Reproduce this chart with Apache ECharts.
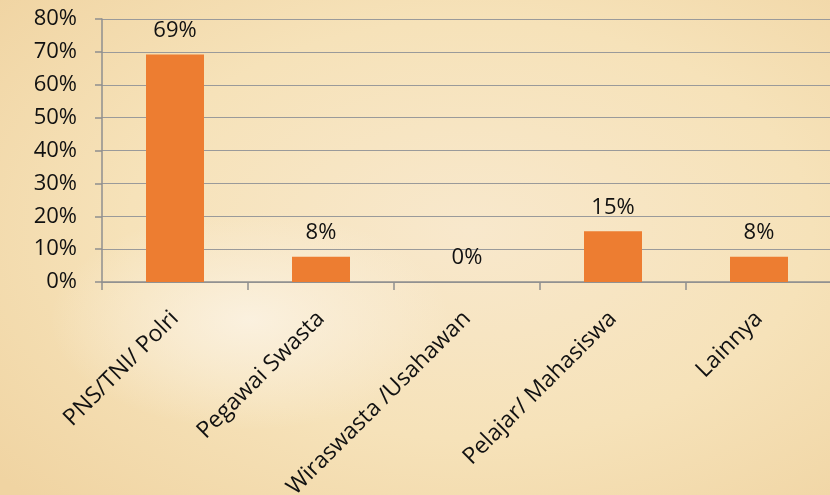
<!DOCTYPE html>
<html>
<head>
<meta charset="utf-8">
<script src="https://cdn.jsdelivr.net/npm/echarts@6/dist/echarts.min.js"></script>
<style>
  html, body { margin: 0; padding: 0; }
  body {
    width: 830px; height: 495px; overflow: hidden;
    background:
      radial-gradient(ellipse 200px 110px at 250px 320px, rgba(251,242,226,0.9), rgba(251,242,226,0) 100%),
      radial-gradient(ellipse 620px 380px at 470px 230px, #f8e8cc 0%, #f6e2b9 55%, #f0d4a2 100%);
  }
  #chart { width: 830px; height: 495px; }
</style>
</head>
<body>
<div id="chart"></div>
<script>
var categories = ["PNS/TNI/ Polri", "Pegawai Swasta", "Wiraswasta /Usahawan", "Pelajar/ Mahasiswa", "Lainnya"];
var values = [69.2, 7.7, 0, 15.4, 7.7];
var yTicks = [0, 10, 20, 30, 40, 50, 60, 70, 80];

var chart = echarts.init(document.getElementById("chart"));
var font = "'Open Sans', sans-serif";

var option = {
    backgroundColor: 'transparent',
    animation: false,
    grid: {
        left: 102,
        top: 19,
        width: 730,
        height: 263,
        containLabel: false,
        outerBoundsMode: 'none'
    },
    xAxis: {
        type: 'category',
        data: categories,
        axisLine: { lineStyle: { color: '#8f8f8f', width: 1.5 } },
        axisTick: { show: true, length: 8, alignWithLabel: false, lineStyle: { color: '#8f8f8f', width: 1.5 } },
        axisLabel: {
            rotate: 45,
            interval: 0,
            margin: 33,
            color: '#111',
            fontFamily: font,
            fontSize: 23
        }
    },
    yAxis: {
        type: 'value',
        min: yTicks[0],
        max: yTicks[yTicks.length - 1],
        interval: 10,
        axisLine: { show: true, lineStyle: { color: '#8f8f8f', width: 1.5 } },
        axisTick: { show: true, length: 7, lineStyle: { color: '#8f8f8f', width: 1.5 } },
        splitLine: { lineStyle: { color: '#9a9a9a', width: 1.2 } },
        axisLabel: {
            margin: 25,
            color: '#111',
            fontFamily: font,
            fontSize: 22,
            formatter: function (v) { return v + '%'; }
        }
    },
    series: [{
        type: 'bar',
        data: values,
        barWidth: 58,
        itemStyle: { color: '#ED7D31' },
        label: {
            show: true,
            position: 'top',
            distance: 13,
            color: '#111',
            fontFamily: font,
            fontSize: 22,
            formatter: function (p) { return Math.round(p.value) + '%'; }
        }
    }]
};
chart.setOption(option);
</script>
</body>
</html>
